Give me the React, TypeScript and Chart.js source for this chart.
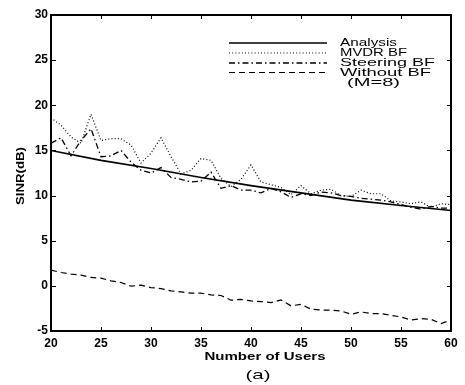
import React, { useEffect, useRef } from 'react';
import { Chart, registerables } from 'chart.js';
Chart.register(...registerables);

const users = [20, 21, 22, 23, 24, 25, 26, 27, 28, 29, 30, 31, 32, 33, 34, 35, 36, 37, 38, 39, 40, 41, 42, 43, 44, 45, 46, 47, 48, 49, 50, 51, 52, 53, 54, 55, 56, 57, 58, 59, 60];
const analysisUsers = [20, 25, 30, 35, 40, 45, 50, 55, 60];
const analysis = [15.0, 13.9, 13.0, 12.0, 11.1, 10.3, 9.5, 8.9, 8.35];
const mvdr = [18.6, 17.8, 16.5, 15.8, 19.0, 16.1, 16.3, 16.3, 15.6, 13.6, 14.7, 16.4, 14.3, 12.4, 12.8, 14.1, 13.9, 11.9, 11.0, 11.8, 13.4, 11.5, 11.2, 10.9, 10.1, 11.1, 10.2, 10.6, 10.7, 10.0, 9.9, 10.6, 10.2, 10.2, 9.4, 9.3, 9.1, 9.3, 8.7, 9.1, 9.0];
const steering = [15.8, 16.4, 14.4, 16.1, 17.4, 14.3, 14.4, 15.0, 13.7, 12.8, 12.5, 13.1, 12.0, 11.8, 11.5, 11.6, 12.6, 10.8, 11.1, 10.6, 10.6, 10.3, 10.8, 10.4, 9.8, 10.2, 10.0, 10.4, 10.3, 10.0, 9.9, 9.7, 9.6, 9.5, 9.3, 9.0, 8.7, 8.5, 8.8, 8.6, 8.6];
const withoutBF = [1.74, 1.48, 1.3, 1.19, 0.93, 0.85, 0.56, 0.37, -0.03, 0.07, -0.19, -0.3, -0.56, -0.67, -0.81, -0.81, -1.0, -1.07, -1.59, -1.5, -1.67, -1.74, -1.85, -1.56, -2.22, -2.04, -2.59, -2.67, -2.7, -2.78, -3.15, -2.89, -3.07, -3.07, -3.26, -3.44, -3.78, -3.63, -3.7, -4.19, -3.78];
const xTicks = [20, 25, 30, 35, 40, 45, 50, 55, 60];
const yTicks = [-5, 0, 5, 10, 15, 20, 25, 30];
const legendLabels = ['Analysis', 'MVDR BF', 'Steering BF', 'Without BF'];
const legendNote = '(M=8)';
const xTitle = 'Number of Users';
const yTitle = 'SINR(dB)';
const caption = '(a)';

const dashes = [[], [1, 2.2], [6, 3, 1.5, 3], [6, 4]];
const widths = [1.6, 1.2, 1.3, 1.2];

function drawFit(ctx: CanvasRenderingContext2D, text: string, x: number, y: number, width: number, font: string, align: 'left' | 'center' = 'left') {
  ctx.save();
  ctx.font = font;
  ctx.textBaseline = 'middle';
  ctx.textAlign = 'left';
  const w = ctx.measureText(text).width;
  const s = width / w;
  const x0 = align === 'center' ? x - width / 2 : x;
  ctx.translate(x0, y);
  ctx.scale(s, 1);
  ctx.fillStyle = '#000';
  ctx.fillText(text, 0, 0);
  ctx.restore();
}

const decorPlugin = {
  id: 'decor',
  afterDraw(chart: any) {
    const ctx: CanvasRenderingContext2D = chart.ctx;
    const xs = chart.scales.x;
    const ys = chart.scales.y;
    const L = Math.round(xs.getPixelForValue(20));
    const R = Math.round(xs.getPixelForValue(60));
    const T = Math.round(ys.getPixelForValue(30));
    const B = Math.round(ys.getPixelForValue(-5));
    ctx.save();
    ctx.setTransform(1, 0, 0, 1, 0, 0);
    ctx.globalAlpha = 1;
    ctx.globalCompositeOperation = 'source-over';
    ctx.fillStyle = '#000000';
    // frame
    ctx.fillRect(L - 1, T - 1, R - L + 2, 2);
    ctx.fillRect(L - 1, B - 1, R - L + 2, 2);
    ctx.fillRect(L - 1, T - 1, 2, B - T + 2);
    ctx.fillRect(R - 1, T - 1, 2, B - T + 2);
    const tl = 4;
    xTicks.forEach((v) => {
      const px = Math.round(xs.getPixelForValue(v));
      ctx.fillRect(px, B - tl, 1, tl);
      ctx.fillRect(px, T + 1, 1, tl - 1);
    });
    yTicks.forEach((v) => {
      const py = Math.round(ys.getPixelForValue(v));
      ctx.fillRect(L + 1, py, tl, 1);
      ctx.fillRect(R - tl, py, tl, 1);
    });
    ctx.restore();

    // legend
    const rowsY = [43, 53, 63, 72.5];
    const textW = [57, 67, 95, 91];
    rowsY.forEach((ry, i) => {
      ctx.save();
      ctx.strokeStyle = '#000';
      ctx.beginPath();
      ctx.setLineDash(dashes[i]);
      ctx.lineWidth = widths[i];
      ctx.moveTo(229, ry);
      ctx.lineTo(327, ry);
      ctx.stroke();
      ctx.restore();
      drawFit(ctx, legendLabels[i], 340, ry, textW[i], '11px "Liberation Sans"');
    });
    drawFit(ctx, legendNote, 347, 83, 53, '11px "Liberation Sans"');

    // titles
    drawFit(ctx, xTitle, 265, 357, 121, 'bold 11px "Liberation Sans"', 'center');
    drawFit(ctx, caption, 258, 375, 25, '13px "Liberation Sans"', 'center');
    ctx.save();
    ctx.translate(21, 176);
    ctx.rotate(-Math.PI / 2);
    drawFit(ctx, yTitle, 0, 0, 58, 'bold 11px "Liberation Sans"', 'center');
    ctx.restore();
  },
};

export default function App() {
  const ref = useRef<HTMLCanvasElement>(null);
  useEffect(() => {
    if (!ref.current) return;
    const mk = (xs: number[], ys: number[]) => xs.map((x, i) => ({ x, y: ys[i] }));
    const series = [mk(analysisUsers, analysis), mk(users, mvdr), mk(users, steering), mk(users, withoutBF)];
    const chart = new Chart(ref.current, {
      type: 'line',
      data: {
        datasets: series.map((d, i) => ({
          label: legendLabels[i],
          data: d,
          borderColor: '#000',
          borderWidth: widths[i],
          borderDash: dashes[i],
          pointRadius: 0,
          tension: 0,
          fill: false,
        })),
      },
      options: {
        animation: false,
        responsive: false,
        maintainAspectRatio: false,
        layout: { padding: { top: 15, right: 14, left: 0, bottom: 0 } },
        plugins: { legend: { display: false }, tooltip: { enabled: false } },
        scales: {
          x: {
            type: 'linear',
            min: 20,
            max: 60,
            afterBuildTicks: (s: any) => { s.ticks = xTicks.map((v) => ({ value: v })); },
            afterFit: (s: any) => { s.height = 54; },
            grid: { display: false, drawTicks: false },
            border: { display: false },
            ticks: { color: '#000', font: { family: 'Liberation Sans', size: 12, weight: 'bold' }, padding: 5, maxRotation: 0 },
          },
          y: {
            type: 'linear',
            min: -5,
            max: 30,
            afterBuildTicks: (s: any) => { s.ticks = yTicks.map((v) => ({ value: v })); },
            afterFit: (s: any) => { s.width = 51; },
            grid: { display: false, drawTicks: false },
            border: { display: false },
            ticks: { color: '#000', font: { family: 'Liberation Sans', size: 12, weight: 'bold' }, padding: 3 },
          },
        },
      },
      plugins: [decorPlugin],
    } as any);
    return () => chart.destroy();
  }, []);
  return (
    <div style={{ position: 'fixed', left: 0, top: 0, width: 465, height: 385, background: '#fff' }}>
      <canvas ref={ref} width={465} height={385} style={{ width: 465, height: 385 }} />
    </div>
  );
}
